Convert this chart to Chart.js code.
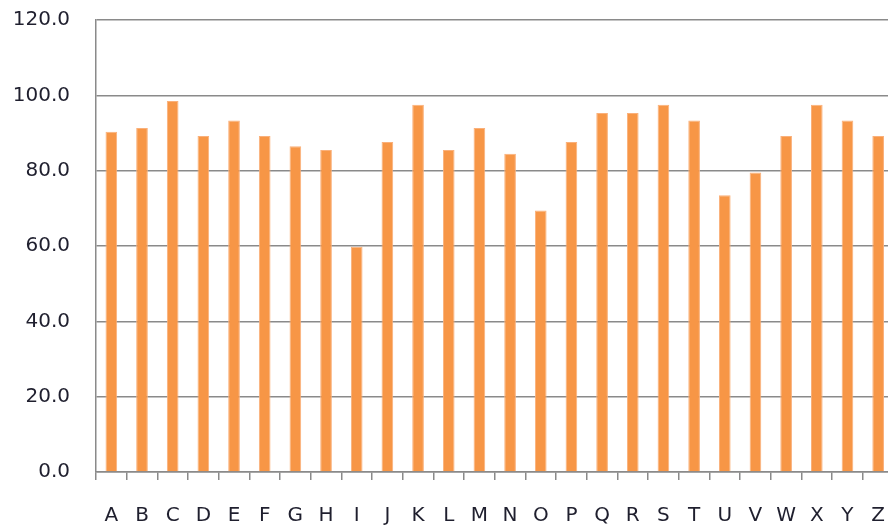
<!DOCTYPE html>
<html>
<head>
<meta charset="utf-8">
<script src="https://cdn.jsdelivr.net/npm/chart.js@4/dist/chart.umd.min.js"></script>
<style>
    html, body { margin: 0; padding: 0; background: #fff; overflow: hidden; }
    #wrap { width: 888px; height: 527px; overflow: hidden; }
</style>
</head>
<body>
<div id="wrap"><canvas id="barChart" width="909" height="527"></canvas></div>
<script>
// chart data
const categories = ['A', 'B', 'C', 'D', 'E', 'F', 'G', 'H', 'I', 'J', 'K', 'L', 'M',
    'N', 'O', 'P', 'Q', 'R', 'S', 'T', 'U', 'V', 'W', 'X', 'Y', 'Z'];
const values = [90.3, 91.3, 98.5, 89.2, 93.3, 89.2, 86.5, 85.5, 59.8, 87.6, 97.5, 85.5, 91.3,
    84.5, 69.4, 87.6, 95.3, 95.3, 97.5, 93.3, 73.5, 79.5, 89.2, 97.5, 93.3, 89.2];
const yTicks = [0, 20, 40, 60, 80, 100, 120];

const gridGrey = '#8a8a8a';
const labelFont = { family: 'DejaVu Sans', size: 20 };

var ctx = document.getElementById('barChart').getContext('2d');

// plot is wider than the window, the right edge gets cut off like the original
var chart = new Chart(ctx, {
    type: 'bar',
    data: {
        labels: categories,
        datasets: [{
            data: values,
            backgroundColor: '#F79646',
            borderColor: '#FAB07A',
            borderWidth: 1,
            barPercentage: 0.38,
            categoryPercentage: 1
        }]
    },
    options: {
        responsive: false,
        animation: false,
        devicePixelRatio: 1,
        layout: { padding: { top: 20, right: 0, left: 0, bottom: 0 } },
        plugins: {
            legend: { display: false },
            tooltip: { enabled: false }
        },
        scales: {
            x: {
                grid: {
                    drawOnChartArea: false,
                    drawTicks: true,
                    tickLength: 8,
                    color: gridGrey,
                    lineWidth: 1.5
                },
                border: { color: gridGrey, width: 1.5 },
                ticks: {
                    color: '#1f1f2e',
                    font: labelFont,
                    padding: 24,
                    maxRotation: 0,
                    autoSkip: false
                },
                afterFit: (scale) => { scale.height = 55; }
            },
            y: {
                min: yTicks[0],
                max: yTicks[yTicks.length - 1],
                afterBuildTicks: (scale) => {
                    scale.ticks = yTicks.map(v => ({ value: v }));
                },
                grid: {
                    drawTicks: false,
                    color: gridGrey,
                    lineWidth: 1.5
                },
                border: { color: gridGrey, width: 1.5 },
                ticks: {
                    color: '#1f1f2e',
                    font: labelFont,
                    padding: 26,
                    callback: (v) => Number(v).toFixed(1)
                },
                afterFit: (scale) => {
                    scale.width = 96;
                    scale.paddingTop = 0;
                    scale.paddingBottom = 0;
                }
            }
        }
    }
});
</script>
</body>
</html>
